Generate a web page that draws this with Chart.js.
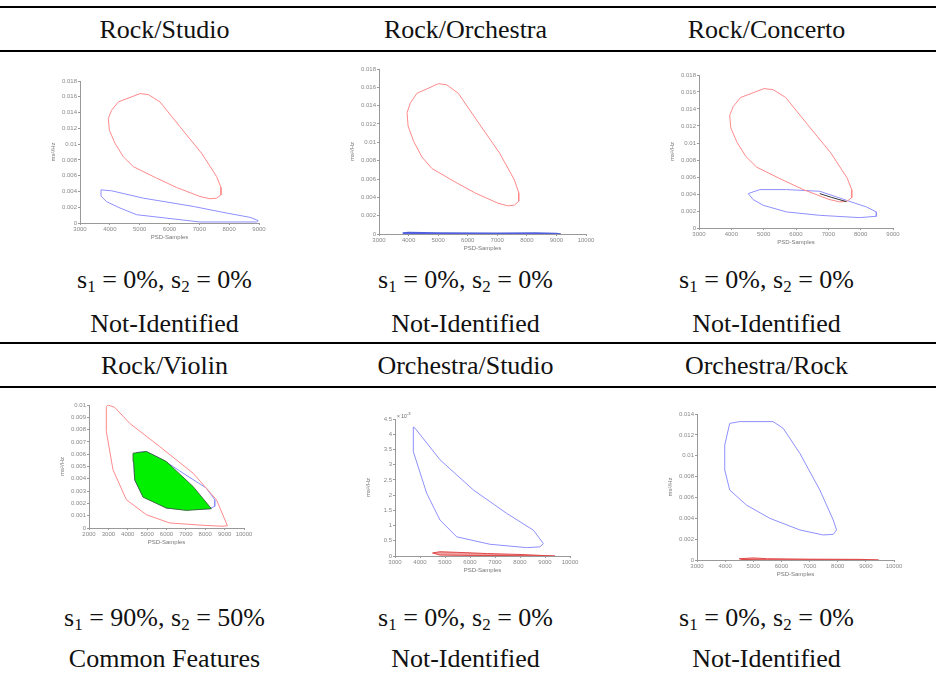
<!DOCTYPE html>
<html>
<head>
<meta charset="utf-8">
<script src="https://cdn.jsdelivr.net/npm/chart.js@4.4.0/dist/chart.umd.min.js"></script>
<style>
body { margin: 0; width: 936px; height: 676px; position: relative; background: #fff; overflow: hidden;
       font-family: "Liberation Serif", "Times New Roman", serif; }
.rule { position: absolute; left: 0; width: 936px; height: 2px; background: #000; }
.cell { position: absolute; width: 301px; text-align: center; font-size: 26px; line-height: 30px; color: #111; white-space: nowrap; }
.cell sub { font-size: 17px; vertical-align: -4px; line-height: 0; }
.plot { position: absolute; }
.expo { position: absolute; font: 5px "Liberation Sans", sans-serif; color: #666; }
</style>
</head>
<body>
<script>
// table text
const headers = ['Rock/Studio', 'Rock/Orchestra', 'Rock/Concerto', 'Rock/Violin', 'Orchestra/Studio', 'Orchestra/Rock'];
const s1Vals = [0, 0, 0, 90, 0, 0];
const s2Vals = [0, 0, 0, 50, 0, 0];
const verdicts = ['Not-Identified', 'Not-Identified', 'Not-Identified', 'Common Features', 'Not-Identified', 'Not-Identified'];

// contours, [PSD-Samples, value]
const rock1 = [[4285,0.01535],[5011,0.0164],[5290,0.01628],[5681,0.01535],[6351,0.0122],[7077,0.00883],[7580,0.00589],[7725,0.0045],[7725,0.00358],[7580,0.00315],[7356,0.00307],[7021,0.00336],[6239,0.0045],[5570,0.00568],[4787,0.00715],[4452,0.0084],[4173,0.0101],[3983,0.01178],[3950,0.01325],[4061,0.0143],[4285,0.01535]];
const studio1 = [[3704,0.0042],[4061,0.00408],[5122,0.00315],[6798,0.0021],[7915,0.00126],[8697,0.00072],[8976,0.0003],[8920,0.00013],[7021,0.00013],[4899,0.00105],[4340,0.0019],[3894,0.0027],[3704,0.0034],[3704,0.0042]];
const orchestra2 = [[3800,0.0001],[4000,0.00016],[5000,0.0001],[7000,0.00008],[8300,0.00012],[9000,0.00005],[9150,0],[7000,0.00002],[5000,0.00003],[3900,0.00005],[3800,0.0001]];
const concerto3 = [[4523,0.00405],[4883,0.00452],[5706,0.00452],[6735,0.00432],[7558,0.00326],[8175,0.00248],[8484,0.00189],[8484,0.00138],[7969,0.00122],[6735,0.00149],[5706,0.00189],[4986,0.00267],[4677,0.00334],[4523,0.00405]];
const overlap3 = [[6735,0.00405],[7100,0.0036],[7558,0.0031]];
const rock4 = [[2981,0.01],[3325,0.00981],[4100,0.00851],[5649,0.00662],[7370,0.00446],[8575,0.0023],[9143,0.00019],[8919,0.00014],[7886,0.00022],[6165,0.00041],[4960,0.00108],[3928,0.0023],[3239,0.00473],[2895,0.00784],[2895,0.00986],[2981,0.01]];
const violin4 = [[4444,0.00614],[4960,0.00622],[5821,0.00554],[6854,0.00446],[8059,0.00324],[8489,0.0023],[8489,0.00176],[8231,0.00157],[7026,0.00149],[5993,0.00162],[4788,0.00257],[4358,0.00392],[4306,0.00541],[4444,0.00614]];
const common4 = [[4271,0.00608],[4960,0.00622],[5649,0.00568],[5993,0.0054],[7370,0.00338],[8317,0.00157],[7026,0.00143],[5993,0.00162],[4788,0.00251],[4358,0.00392],[4306,0.00541],[4271,0.00608]];
// chart 5 values are in units of 1e-3
const orchestra5 = [[3733,4.236],[3800,4.2],[4800,3.16],[6133,2.17],[7467,1.4],[8533,0.85],[8933,0.41],[8800,0.3],[8267,0.275],[6800,0.385],[5467,0.63],[4800,1.18],[4267,2.06],[3733,3.43],[3733,4.236]];
const studio5 = [[4500,0.1],[4800,0.14],[5500,0.12],[6700,0.08],[8000,0.05],[9400,0],[8000,0.01],[6000,0.02],[4800,0.03],[4500,0.1]];
const orchestra6 = [[4163,0.0131],[4519,0.01327],[5705,0.01327],[6061,0.01263],[6654,0.01023],[7365,0.00671],[7840,0.00384],[7958,0.00288],[7840,0.00246],[7484,0.0024],[6654,0.00288],[5586,0.004],[4756,0.00527],[4163,0.00671],[3986,0.00863],[3986,0.01103],[4163,0.0131]];
const rock6 = [[4500,0.00012],[5000,0.0002],[5500,0.00012],[7000,0.00008],[8800,0.00006],[9450,0],[8000,0.00002],[5500,0.00002],[4600,0.00005],[4500,0.00012]];

const xRanges = [[3000,9000],[3000,10000],[3000,9000],[2000,10000],[3000,10000],[3000,10000]];
const yMax = [0.018, 0.018, 0.018, 0.01, 4.5, 0.014];
const yStep = [0.002, 0.002, 0.002, 0.001, 0.5, 0.002];

// plot areas on the page (left, top, right, bottom)
const boxes = [
    {l: 80, t: 81, r: 259, b: 223},
    {l: 379, t: 69, r: 586, b: 234},
    {l: 699, t: 75, r: 893, b: 228},
    {l: 89, t: 405, r: 244, b: 528},
    {l: 395, t: 419, r: 570, b: 556},
    {l: 697, t: 414, r: 894, b: 560}
];

const RED = '#ff8a8a', BLUE = '#8f8fff', DRED = '#e04848', DBLUE = '#5060e0';

function pts(arr) { return arr.map(p => ({x: p[0], y: p[1]})); }
function line(arr, color, w) {
    return { data: pts(arr), showLine: true, borderColor: color, borderWidth: w || 1, pointRadius: 0, fill: false, tension: 0 };
}

const chartSets = [
    [line(rock1, RED), line(studio1, BLUE)],
    [line(rock1, RED), line(orchestra2, DBLUE, 1.5)],
    [line(overlap3, '#333'), line(rock1, RED), line(concerto3, BLUE)],
    [Object.assign(line(common4, '#335533', 0.8), {fill: 'shape', backgroundColor: '#00f000'}), line(rock4, RED), line(violin4, BLUE)],
    [line(orchestra5, BLUE), Object.assign(line(studio5, DRED), {fill: 'shape', backgroundColor: '#f0a0a0'})],
    [line(orchestra6, BLUE), Object.assign(line(rock6, DRED), {fill: 'shape', backgroundColor: '#f0a0a0'})]
];

// rules
[6, 50, 342, 386].forEach(y => {
    const d = document.createElement('div');
    d.className = 'rule';
    d.style.top = y + 'px';
    document.body.appendChild(d);
});

// text cells
const colLeft = [14, 315, 616];
const rowBase = [
    {head: 39, s: 289, v: 333},
    {head: 375, s: 627, v: 668}
];
function addCell(html, col, baseline) {
    const d = document.createElement('div');
    d.className = 'cell';
    d.style.left = colLeft[col] + 'px';
    d.style.top = (baseline - 24) + 'px';
    d.innerHTML = html;
    document.body.appendChild(d);
}
headers.forEach((h, i) => {
    const row = Math.floor(i / 3), col = i % 3;
    addCell(h, col, rowBase[row].head);
    addCell('s<sub>1</sub> = ' + s1Vals[i] + '%, s<sub>2</sub> = ' + s2Vals[i] + '%', col, rowBase[row].s);
    addCell(verdicts[i], col, rowBase[row].v);
});

const PADL = 30, PADT = 8, PADR = 12, PADB = 18;
const tickFont = {family: '"Liberation Sans", sans-serif', size: 6};

boxes.forEach((bx, i) => {
    const wrap = document.createElement('div');
    wrap.className = 'plot';
    wrap.style.left = (bx.l - PADL) + 'px';
    wrap.style.top = (bx.t - PADT) + 'px';
    const cv = document.createElement('canvas');
    cv.width = bx.r - bx.l + PADL + PADR;
    cv.height = bx.b - bx.t + PADT + PADB;
    wrap.appendChild(cv);
    document.body.appendChild(wrap);

    new Chart(cv, {
        type: 'scatter',
        data: { datasets: chartSets[i] },
        options: {
            responsive: false,
            animation: false,
            layout: { padding: {top: PADT, right: PADR, left: 0, bottom: 0} },
            plugins: { legend: {display: false}, tooltip: {enabled: false} },
            scales: {
                x: {
                    type: 'linear', min: xRanges[i][0], max: xRanges[i][1],
                    afterFit: s => { s.height = PADB; },
                    grid: {display: true, drawOnChartArea: false, tickLength: 2, color: '#999'},
                    border: {color: '#999'},
                    ticks: {stepSize: 1000, autoSkip: false, maxRotation: 0, padding: 1, color: '#888', font: tickFont,
                            callback: v => String(v)},
                    title: {display: true, text: 'PSD-Samples', color: '#777', font: tickFont, padding: 0}
                },
                y: {
                    type: 'linear', min: 0, max: yMax[i],
                    afterFit: s => { s.width = PADL; },
                    grid: {display: true, drawOnChartArea: false, tickLength: 2, color: '#999'},
                    border: {color: '#999'},
                    ticks: {stepSize: yStep[i], autoSkip: false, padding: 1, color: '#888', font: tickFont,
                            callback: v => String(parseFloat(v.toFixed(4)))},
                    title: {display: true, text: 'ms²/Hz', color: '#777', font: tickFont, padding: 0}
                }
            }
        }
    });
});

// exponent note on the Orchestra/Studio plot
const ex = document.createElement('div');
ex.className = 'expo';
ex.style.left = (boxes[4].l + 2) + 'px';
ex.style.top = (boxes[4].t - 8) + 'px';
ex.innerHTML = '× 10<sup>-3</sup>';
document.body.appendChild(ex);
</script>
</body>
</html>
